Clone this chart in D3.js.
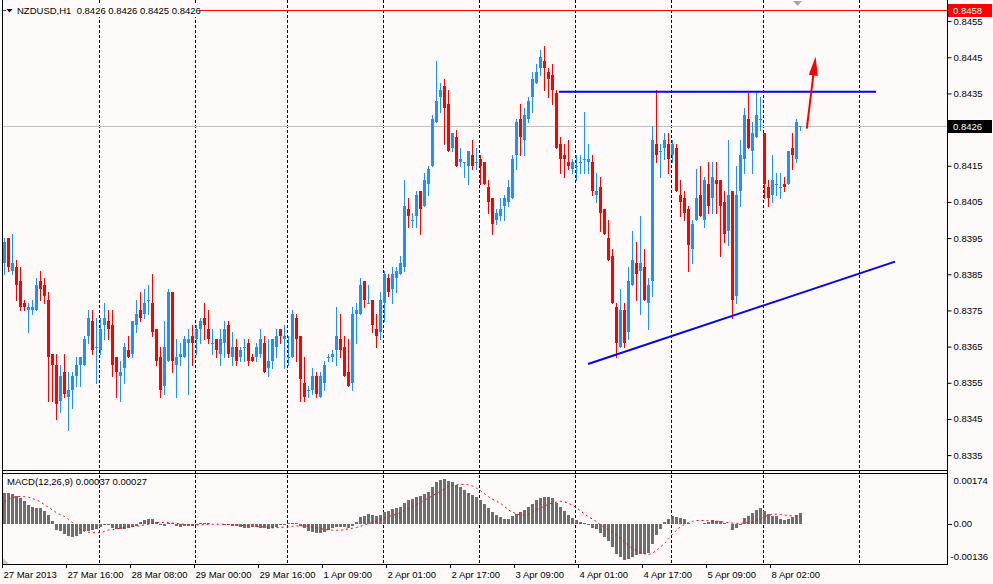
<!DOCTYPE html>
<html>
<head>
<meta charset="utf-8">
<script src="https://cdn.jsdelivr.net/npm/d3@7"></script>
<style>
  body { margin: 0; background: #fffafa; }
  svg { display: block; }
</style>
</head>
<body>
<svg id="chart" width="993" height="584"></svg>
<script>
// NZDUSD H1, 27 Mar 2013 .. 8 Apr 2013, one entry per hourly bar
const opens = [
  0.8388,0.8395,0.8386,0.8387,0.8383,0.8377,0.8375,0.8375,0.8375,0.8383,0.8382,0.8378,0.8363,0.8360,0.8350,0.8358,0.8351,0.8353,0.8357,0.8360,
  0.8360,0.8368,0.8372,0.8365,0.8364,0.8371,0.8372,0.8371,0.8362,0.8357,0.8359,0.8364,0.8363,0.8371,0.8375,0.8374,0.8378,0.8377,0.8370,0.8362,
  0.8354,0.8361,0.8380,0.8360,0.8362,0.8362,0.8366,0.8368,0.8367,0.8370,0.8373,0.8370,0.8366,0.8367,0.8363,0.8366,0.8371,0.8362,0.8365,0.8362,
  0.8365,0.8366,0.8362,0.8362,0.8363,0.8366,0.8359,0.8361,0.8365,0.8370,0.8367,0.8362,0.8362,0.8373,0.8368,0.8355,0.8353,0.8353,0.8357,0.8351,
  0.8355,0.8362,0.8362,0.8364,0.8367,0.8365,0.8358,0.8355,0.8374,0.8374,0.8383,0.8377,0.8378,0.8370,0.8369,0.8377,0.8384,0.8381,0.8384,0.8385,
  0.8387,0.8403,0.8400,0.8401,0.8408,0.8404,0.8410,0.8415,0.8427,0.8434,0.8437,0.8432,0.8420,0.8423,0.8416,0.8416,0.8415,0.8418,0.8416,0.8417,
  0.8416,0.8409,0.8406,0.8400,0.8401,0.8404,0.8405,0.8406,0.8418,0.8428,0.8422,0.8428,0.8434,0.8438,0.8442,0.8444,0.8441,0.8440,0.8435,0.8421,
  0.8418,0.8416,0.8414,0.8415,0.8416,0.8417,0.8416,0.8416,0.8407,0.8409,0.8403,0.8395,0.8390,0.8376,0.8365,0.8375,0.8369,0.8382,0.8388,0.8386,
  0.8387,0.8377,0.8383,0.8421,0.8419,0.8420,0.8421,0.8418,0.8420,0.8407,0.8406,0.8403,0.8392,0.8400,0.8407,0.8400,0.8410,0.8406,0.8411,0.8411,
  0.8405,0.8397,0.8408,0.8379,0.8408,0.8417,0.8428,0.8419,0.8423,0.8428,0.8424,0.8409,0.8407,0.8410,0.8409,0.8410,0.8410,0.8420,0.8417,0.8426
];
const highs = [
  0.8395,0.8395,0.8396,0.8389,0.8387,0.8378,0.8377,0.8378,0.8384,0.8386,0.8384,0.8380,0.8363,0.8363,0.8360,0.8363,0.8358,0.8358,0.8362,0.8362,
  0.8368,0.8375,0.8375,0.8373,0.8373,0.8377,0.8375,0.8375,0.8362,0.8361,0.8366,0.8368,0.8372,0.8378,0.8380,0.8381,0.8382,0.8385,0.8370,0.8365,
  0.8372,0.8381,0.8380,0.8367,0.8366,0.8368,0.8370,0.8371,0.8371,0.8373,0.8377,0.8375,0.8370,0.8367,0.8370,0.8372,0.8372,0.8369,0.8367,0.8365,
  0.8367,0.8367,0.8363,0.8366,0.8370,0.8368,0.8367,0.8367,0.8370,0.8370,0.8371,0.8368,0.8375,0.8374,0.8368,0.8362,0.8354,0.8359,0.8358,0.8358,
  0.8361,0.8363,0.8364,0.8376,0.8374,0.8368,0.8367,0.8376,0.8377,0.8384,0.8383,0.8382,0.8378,0.8374,0.8380,0.8386,0.8385,0.8387,0.8387,0.8390,
  0.8411,0.8406,0.8402,0.8408,0.8408,0.8413,0.8415,0.8429,0.8444,0.8438,0.8439,0.8436,0.8424,0.8425,0.8420,0.8416,0.8419,0.8422,0.8420,0.8418,
  0.8416,0.8411,0.8406,0.8403,0.8406,0.8407,0.8411,0.8418,0.8428,0.8432,0.8431,0.8434,0.8441,0.8443,0.8447,0.8448,0.8442,0.8443,0.8436,0.8423,
  0.8421,0.8422,0.8417,0.8418,0.8418,0.8430,0.8421,0.8418,0.8413,0.8412,0.8403,0.8400,0.8392,0.8377,0.8381,0.8377,0.8387,0.8397,0.8394,0.8401,
  0.8392,0.8384,0.8426,0.8436,0.8421,0.8424,0.8424,0.8422,0.8421,0.8411,0.8408,0.8404,0.8400,0.8414,0.8415,0.8412,0.8416,0.8416,0.8416,0.8411,
  0.8408,0.8422,0.8408,0.8415,0.8422,0.8431,0.8435,0.8427,0.8435,0.8434,0.8424,0.8411,0.8418,0.8413,0.8413,0.8412,0.8419,0.8424,0.8428,0.8426
];
const lows = [
  0.8385,0.8386,0.8385,0.8378,0.8375,0.8375,0.8369,0.8374,0.8375,0.8378,0.8377,0.8350,0.8350,0.8345,0.8347,0.8351,0.8342,0.8348,0.8354,0.8354,
  0.8360,0.8366,0.8363,0.8355,0.8363,0.8367,0.8367,0.8357,0.8351,0.8350,0.8355,0.8362,0.8362,0.8369,0.8372,0.8373,0.8374,0.8368,0.8360,0.8351,
  0.8352,0.8361,0.8358,0.8351,0.8360,0.8362,0.8352,0.8360,0.8363,0.8366,0.8367,0.8366,0.8363,0.8362,0.8360,0.8362,0.8362,0.8360,0.8360,0.8361,
  0.8361,0.8360,0.8361,0.8361,0.8362,0.8358,0.8357,0.8359,0.8362,0.8366,0.8359,0.8360,0.8362,0.8361,0.8350,0.8350,0.8351,0.8352,0.8351,0.8351,
  0.8353,0.8361,0.8361,0.8360,0.8362,0.8357,0.8354,0.8353,0.8366,0.8374,0.8376,0.8377,0.8369,0.8365,0.8367,0.8372,0.8379,0.8377,0.8380,0.8385,
  0.8386,0.8398,0.8398,0.8398,0.8396,0.8404,0.8407,0.8415,0.8427,0.8430,0.8421,0.8419,0.8419,0.8415,0.8415,0.8412,0.8410,0.8414,0.8414,0.8410,
  0.8410,0.8402,0.8396,0.8399,0.8400,0.8400,0.8404,0.8406,0.8414,0.8418,0.8418,0.8427,0.8430,0.8438,0.8440,0.8436,0.8434,0.8432,0.8420,0.8413,
  0.8412,0.8414,0.8413,0.8411,0.8413,0.8413,0.8413,0.8407,0.8405,0.8397,0.8396,0.8389,0.8377,0.8362,0.8365,0.8365,0.8367,0.8382,0.8378,0.8374,
  0.8378,0.8370,0.8379,0.8416,0.8412,0.8417,0.8413,0.8416,0.8408,0.8401,0.8400,0.8386,0.8388,0.8400,0.8401,0.8398,0.8402,0.8402,0.8402,0.8390,
  0.8394,0.8393,0.8373,0.8377,0.8404,0.8413,0.8420,0.8413,0.8423,0.8425,0.8406,0.8404,0.8405,0.8407,0.8406,0.8408,0.8410,0.8414,0.8416,0.8425
];
const closes = [
  0.8394,0.8387,0.8388,0.8382,0.8376,0.8376,0.8376,0.8376,0.8382,0.8381,0.8379,0.8362,0.8360,0.8349,0.8357,0.8352,0.8353,0.8357,0.8360,0.8362,
  0.8367,0.8373,0.8364,0.8365,0.8370,0.8373,0.8370,0.8360,0.8358,0.8358,0.8365,0.8362,0.8372,0.8374,0.8373,0.8377,0.8378,0.8369,0.8361,0.8353,
  0.8365,0.8380,0.8361,0.8362,0.8363,0.8367,0.8367,0.8366,0.8370,0.8372,0.8371,0.8367,0.8366,0.8364,0.8367,0.8370,0.8363,0.8365,0.8361,0.8364,
  0.8365,0.8361,0.8361,0.8365,0.8367,0.8358,0.8361,0.8367,0.8368,0.8368,0.8368,0.8362,0.8374,0.8367,0.8356,0.8351,0.8353,0.8357,0.8352,0.8357,
  0.8360,0.8362,0.8363,0.8368,0.8364,0.8357,0.8354,0.8374,0.8375,0.8382,0.8378,0.8377,0.8371,0.8368,0.8378,0.8385,0.8380,0.8385,0.8386,0.8388,
  0.8404,0.8401,0.8400,0.8407,0.8403,0.8411,0.8414,0.8428,0.8433,0.8436,0.8431,0.8419,0.8424,0.8415,0.8417,0.8416,0.8419,0.8415,0.8416,0.8415,
  0.8410,0.8405,0.8399,0.8402,0.8403,0.8406,0.8409,0.8417,0.8427,0.8423,0.8429,0.8433,0.8439,0.8441,0.8445,0.8442,0.8439,0.8436,0.8420,0.8417,
  0.8417,0.8415,0.8416,0.8415,0.8416,0.8417,0.8417,0.8408,0.8408,0.8402,0.8396,0.8389,0.8377,0.8366,0.8375,0.8366,0.8383,0.8389,0.8385,0.8388,
  0.8378,0.8382,0.8422,0.8418,0.8419,0.8422,0.8417,0.8421,0.8408,0.8405,0.8402,0.8393,0.8399,0.8406,0.8401,0.8411,0.8404,0.8412,0.8410,0.8404,
  0.8396,0.8407,0.8378,0.8407,0.8418,0.8429,0.8420,0.8424,0.8429,0.8428,0.8410,0.8406,0.8411,0.8410,0.8409,0.8409,0.8419,0.8418,0.8427,0.8426
];

const macdMain = [
  0.00108,0.00108,0.00104,0.00099,0.00090,0.00081,0.00067,0.00058,0.00056,0.00055,0.00046,0.00030,0.00012,-0.00020,-0.00026,-0.00035,-0.00042,-0.00044,-0.00043,-0.00035,
  -0.00026,-0.00023,-0.00021,-0.00017,-0.00012,-0.00003,-0.00003,-0.00014,-0.00016,-0.00019,-0.00019,-0.00014,-0.00009,-0.00006,0.00006,0.00015,0.00017,0.00017,0.00006,-0.00002,
  -0.00008,0.00005,0.00002,-0.00008,-0.00009,-0.00008,-0.00007,-0.00006,-0.00005,0.00002,0.00002,0.00002,-0.00001,-0.00001,-0.00001,-0.00002,-0.00003,-0.00006,-0.00008,-0.00010,
  -0.00014,-0.00015,-0.00012,-0.00012,-0.00013,-0.00015,-0.00017,-0.00014,-0.00009,-0.00003,-0.00002,0.00002,0.00003,0.00002,-0.00006,-0.00015,-0.00026,-0.00027,-0.00032,-0.00032,
  -0.00029,-0.00021,-0.00014,-0.00009,-0.00012,-0.00012,-0.00015,-0.00007,0.00007,0.00023,0.00029,0.00035,0.00032,0.00028,0.00032,0.00042,0.00046,0.00051,0.00055,0.00060,
  0.00073,0.00084,0.00088,0.00095,0.00096,0.00104,0.00113,0.00128,0.00145,0.00153,0.00157,0.00151,0.00146,0.00137,0.00128,0.00118,0.00109,0.00102,0.00093,0.00084,
  0.00070,0.00056,0.00042,0.00031,0.00023,0.00019,0.00019,0.00026,0.00035,0.00042,0.00049,0.00058,0.00070,0.00084,0.00090,0.00093,0.00093,0.00089,0.00072,0.00058,
  0.00046,0.00032,0.00021,0.00014,0.00006,0.00002,-0.00002,-0.00014,-0.00017,-0.00032,-0.00044,-0.00058,-0.00079,-0.00104,-0.00116,-0.00125,-0.00121,-0.00116,-0.00109,-0.00104,
  -0.00104,-0.00100,-0.00070,-0.00038,-0.00017,0.00006,0.00017,0.00027,0.00023,0.00020,0.00017,0.00002,-0.00001,0.00000,-0.00001,0.00003,0.00008,0.00014,0.00012,0.00009,
  0.00005,0.00000,-0.00020,-0.00014,-0.00002,0.00021,0.00028,0.00037,0.00049,0.00056,0.00046,0.00035,0.00028,0.00026,0.00019,0.00015,0.00019,0.00023,0.00030,0.00037
];
const macdSignal = [
  0.00077,0.00086,0.00092,0.00095,0.00096,0.00095,0.00093,0.00088,0.00084,0.00077,0.00067,0.00058,0.00049,0.00039,0.00032,0.00026,0.00016,0.00005,-0.00008,-0.00019,
  -0.00026,-0.00029,-0.00030,-0.00031,-0.00030,-0.00026,-0.00021,-0.00020,-0.00017,-0.00015,-0.00013,-0.00010,-0.00009,-0.00008,-0.00006,-0.00003,-0.00001,0.00002,0.00005,0.00005,
  0.00005,0.00005,0.00003,0.00002,0.00000,-0.00001,-0.00002,-0.00003,-0.00003,-0.00003,-0.00002,-0.00001,-0.00001,-0.00001,-0.00001,-0.00001,-0.00002,-0.00002,-0.00003,-0.00005,
  -0.00006,-0.00007,-0.00008,-0.00009,-0.00010,-0.00010,-0.00012,-0.00014,-0.00013,-0.00012,-0.00011,-0.00010,-0.00008,-0.00007,-0.00007,-0.00007,-0.00008,-0.00010,-0.00013,-0.00016,
  -0.00019,-0.00021,-0.00022,-0.00022,-0.00022,-0.00020,-0.00017,-0.00015,-0.00012,-0.00008,-0.00004,0.00001,0.00006,0.00010,0.00015,0.00020,0.00026,0.00030,0.00034,0.00040,
  0.00046,0.00052,0.00060,0.00068,0.00076,0.00083,0.00090,0.00098,0.00106,0.00115,0.00122,0.00130,0.00134,0.00136,0.00138,0.00138,0.00136,0.00132,0.00125,0.00116,
  0.00105,0.00095,0.00086,0.00079,0.00072,0.00061,0.00049,0.00041,0.00035,0.00032,0.00030,0.00034,0.00042,0.00050,0.00055,0.00062,0.00069,0.00073,0.00076,0.00079,
  0.00077,0.00072,0.00065,0.00056,0.00046,0.00035,0.00025,0.00017,0.00008,-0.00004,-0.00013,-0.00020,-0.00029,-0.00040,-0.00050,-0.00063,-0.00075,-0.00086,-0.00093,-0.00099,
  -0.00104,-0.00107,-0.00102,-0.00092,-0.00080,-0.00068,-0.00052,-0.00036,-0.00022,-0.00010,-0.00002,0.00005,0.00009,0.00012,0.00012,0.00012,0.00011,0.00011,0.00010,0.00008,
  0.00006,0.00004,0.00003,0.00002,0.00002,0.00004,0.00005,0.00008,0.00012,0.00018,0.00025,0.00031,0.00034,0.00034,0.00033,0.00031,0.00029,0.00028,0.00027,0.00027
];

// axis labels
const timeLabelBars = [0, 16, 32, 48, 64, 80, 96, 112, 128, 144, 160, 176, 192];
const timeLabels = ['27 Mar 2013', '27 Mar 16:00', '28 Mar 08:00', '29 Mar 00:00', '29 Mar 16:00',
  '1 Apr 09:00', '2 Apr 01:00', '2 Apr 17:00', '3 Apr 09:00', '4 Apr 01:00', '4 Apr 17:00',
  '5 Apr 09:00', '8 Apr 02:00'];
const gridBars = [24, 48, 71, 95, 119, 143, 167, 190, 214];
// 0.8425 is hidden by the bid box, as in the terminal
const priceTicks = [0.8335, 0.8345, 0.8355, 0.8365, 0.8375, 0.8385, 0.8395, 0.8405, 0.8415, 0.8435, 0.8445, 0.8455];
const macdMax = 0.00174;
const macdMin = -0.00136;

// drawn objects, as [bar, price]
const alertLevel = 0.8458;
const resistanceLine = [[138.75, 0.84355], [218, 0.84355]];
const supportLine = [[146, 0.83602], [222.75, 0.83885]];
const upArrow = [[200.7, 0.84253], [202.9, 0.84452]];

const font = '"Liberation Sans", Arial, sans-serif';
const bull = '#1e90ff';
const bear = '#ff0000';
const bg = '#fffafa';

const left = 2, right = 947;
const mainTop = 0, mainBottom = 471;
const macdTop = 473, macdBottom = 564;

const n = closes.length;
const fmt4 = d3.format('.4f');
const fmt5 = d3.format('.5f');

const svg = d3.select('#chart');

const x = d3.scaleLinear().domain([0, n - 1]).range([4, 800]);
const y = d3.scaleLinear().domain([0.8335, 0.8455]).range([455.1, 21.1]);
const m = d3.scaleLinear().domain([macdMin, macdMax]).range([563, 474]);

svg.append('rect').attr('width', 993).attr('height', 584).attr('fill', bg);

const defs = svg.append('defs');
defs.append('clipPath').attr('id', 'clip-main')
  .append('rect').attr('x', left).attr('y', mainTop).attr('width', right - left).attr('height', mainBottom - mainTop);
defs.append('clipPath').attr('id', 'clip-macd')
  .append('rect').attr('x', left).attr('y', macdTop).attr('width', right - left).attr('height', macdBottom - macdTop);

// vertical dashed grid
svg.append('g')
  .selectAll('line')
  .data(gridBars)
  .join('line')
  .attr('x1', d => Math.round(x(d)) - 0.5)
  .attr('x2', d => Math.round(x(d)) - 0.5)
  .attr('y1', mainTop)
  .attr('y2', macdBottom)
  .attr('stroke', '#000')
  .attr('stroke-dasharray', '3,2')
  .attr('shape-rendering', 'crispEdges');

const main = svg.append('g').attr('clip-path', 'url(#clip-main)');

// alert level and bid line
main.append('line')
  .attr('x1', left).attr('x2', right)
  .attr('y1', Math.round(y(alertLevel)) + 0.5).attr('y2', Math.round(y(alertLevel)) + 0.5)
  .attr('stroke', '#ff0000').attr('shape-rendering', 'crispEdges');
main.append('line')
  .attr('x1', left).attr('x2', right)
  .attr('y1', Math.round(y(closes[n - 1])) + 0.5).attr('y2', Math.round(y(closes[n - 1])) + 0.5)
  .attr('stroke', '#c0c0c0').attr('shape-rendering', 'crispEdges');

// candles
const bars = d3.range(n).map(i => ({ i, o: opens[i], h: highs[i], l: lows[i], c: closes[i] }));
const colour = d => d.c >= d.o ? bull : bear;

main.append('g')
  .selectAll('line')
  .data(bars)
  .join('line')
  .attr('x1', d => Math.round(x(d.i)) + 0.5)
  .attr('x2', d => Math.round(x(d.i)) + 0.5)
  .attr('y1', d => Math.round(y(d.h)))
  .attr('y2', d => Math.round(y(d.l)) + 1)
  .attr('stroke', colour)
  .attr('shape-rendering', 'crispEdges');

main.append('g')
  .selectAll('rect')
  .data(bars)
  .join('rect')
  .attr('x', d => Math.round(x(d.i)) - 1)
  .attr('width', 3)
  .attr('y', d => Math.round(y(Math.max(d.o, d.c))))
  .attr('height', d => Math.max(1, Math.round(y(Math.min(d.o, d.c))) - Math.round(y(Math.max(d.o, d.c)))))
  .attr('fill', colour)
  .attr('shape-rendering', 'crispEdges');

// trend lines
const segment = d3.line().x(d => x(d[0])).y(d => y(d[1]));
[resistanceLine, supportLine].forEach(pts => {
  main.append('path')
    .attr('d', segment(pts))
    .attr('fill', 'none')
    .attr('stroke', '#0000ff')
    .attr('stroke-width', 2);
});

// arrow
const a0 = [x(upArrow[0][0]), y(upArrow[0][1])];
const a1 = [x(upArrow[1][0]), y(upArrow[1][1])];
const len = Math.hypot(a1[0] - a0[0], a1[1] - a0[1]);
const ux = (a1[0] - a0[0]) / len, uy = (a1[1] - a0[1]) / len;
const headLen = 19, headHalf = 4.5;
const base = [a1[0] - ux * headLen, a1[1] - uy * headLen];
main.append('line')
  .attr('x1', a0[0]).attr('y1', a0[1])
  .attr('x2', base[0] + ux * 2).attr('y2', base[1] + uy * 2)
  .attr('stroke', '#ff0000').attr('stroke-width', 2);
main.append('path')
  .attr('d', `M${a1[0]},${a1[1]}L${base[0] - uy * headHalf},${base[1] + ux * headHalf}L${base[0] + uy * headHalf},${base[1] - ux * headHalf}Z`)
  .attr('fill', '#ff0000');

// header
svg.append('rect').attr('x', 6).attr('y', 4).attr('width', 193).attr('height', 13).attr('fill', bg);
svg.append('path').attr('d', 'M6.5,9L12.5,9L9.5,12.5Z').attr('fill', '#000');
svg.append('text')
  .attr('x', 17).attr('y', 10.5).attr('dy', '0.35em')
  .style('white-space', 'pre')
  .attr('font-family', font).attr('font-size', 9.5).attr('fill', '#000')
  .text(`NZDUSD,H1  ${fmt4(opens[n - 1])} ${fmt4(highs[n - 1])} ${fmt4(lows[n - 1])} ${fmt4(closes[n - 1])}`);

// MACD window
const sub = svg.append('g').attr('clip-path', 'url(#clip-macd)');
sub.append('g')
  .selectAll('rect')
  .data(macdMain)
  .join('rect')
  .attr('x', (d, i) => Math.round(x(i)) - 1)
  .attr('width', 3)
  .attr('y', d => Math.round(m(Math.max(d, 0))))
  .attr('height', d => Math.abs(Math.round(m(d)) - Math.round(m(0))))
  .attr('fill', '#6e6e6e')
  .attr('shape-rendering', 'crispEdges');

sub.append('path')
  .datum(macdSignal)
  .attr('d', d3.line().x((d, i) => x(i) + 0.5).y(d => m(d)))
  .attr('fill', 'none')
  .attr('stroke', '#ff0000')
  .attr('stroke-width', 1)
  .attr('stroke-dasharray', '2,3');

svg.append('text')
  .attr('x', 7).attr('y', macdTop + 9).attr('dy', '0.35em')
  .attr('font-family', font).attr('font-size', 9.5).attr('fill', '#000')
  .text(`MACD(12,26,9) ${fmt5(macdMain[n - 1])} ${fmt5(macdSignal[n - 1])}`);

// small grey markers
svg.append('path').attr('d', 'M793,1L802,1L797.5,6Z').attr('fill', '#a8a8a8');
svg.append('path').attr('d', `M3,${macdBottom - 6}L3,${macdBottom}L9,${macdBottom}Z`).attr('fill', '#c8c8c8');

// frame
const frame = svg.append('g').attr('stroke', '#000').attr('shape-rendering', 'crispEdges');
frame.append('line').attr('x1', left + 0.5).attr('x2', left + 0.5).attr('y1', 0).attr('y2', macdBottom + 1);
frame.append('line').attr('x1', right + 0.5).attr('x2', right + 0.5).attr('y1', 0).attr('y2', macdBottom + 1);
frame.append('line').attr('x1', left).attr('x2', right + 1).attr('y1', mainBottom - 0.5).attr('y2', mainBottom - 0.5);
frame.append('line').attr('x1', left).attr('x2', right + 1).attr('y1', macdTop + 0.5).attr('y2', macdTop + 0.5);
frame.append('line').attr('x1', left).attr('x2', right + 1).attr('y1', macdBottom + 0.5).attr('y2', macdBottom + 0.5);

// price axis
const priceAxis = svg.append('g')
  .attr('transform', `translate(${right + 0.5},0)`)
  .call(d3.axisRight(y).tickValues(priceTicks).tickFormat(fmt4).tickSize(4).tickPadding(2))
  .call(g => g.select('.domain').remove())
  .attr('font-family', font)
  .attr('font-size', 9.5);
priceAxis.selectAll('text').attr('fill', '#000');

// price boxes: alert level and bid
[[alertLevel, '#ff0000'], [closes[n - 1], '#000000']].forEach(([v, c]) => {
  const yy = Math.round(y(v));
  svg.append('rect').attr('x', right + 1).attr('y', yy - 6).attr('width', 44).attr('height', 13).attr('fill', c);
  svg.append('text')
    .attr('x', right + 6).attr('y', yy + 0.5).attr('dy', '0.35em')
    .attr('font-family', font).attr('font-size', 9.5).attr('fill', '#fff')
    .text(fmt4(v));
});

// MACD axis labels
const macdLabels = [
  { t: '0.00174', yy: m(macdMax) + 7, dx: 0 },
  { t: '0.00', yy: m(0), dx: 0 },
  { t: '-0.00136', yy: m(macdMin) - 6, dx: -3 }
];
svg.append('line')
  .attr('x1', right + 1).attr('x2', right + 5)
  .attr('y1', Math.round(m(0)) + 0.5).attr('y2', Math.round(m(0)) + 0.5)
  .attr('stroke', '#000').attr('shape-rendering', 'crispEdges');
svg.append('g')
  .selectAll('text')
  .data(macdLabels)
  .join('text')
  .attr('x', d => right + 6.5 + d.dx)
  .attr('y', d => d.yy)
  .attr('dy', '0.35em')
  .attr('font-family', font).attr('font-size', 9.5).attr('fill', '#000')
  .text(d => d.t);

// time axis
const timeAxis = svg.append('g')
  .attr('transform', `translate(-2,${macdBottom})`)
  .call(d3.axisBottom(x).tickValues(timeLabelBars).tickFormat((d, i) => timeLabels[i]).tickSize(4).tickPadding(3))
  .call(g => g.select('.domain').remove())
  .attr('font-family', font)
  .attr('font-size', 9.5);
timeAxis.selectAll('text').attr('text-anchor', 'start').attr('x', 1).attr('fill', '#000');
</script>
</body>
</html>
